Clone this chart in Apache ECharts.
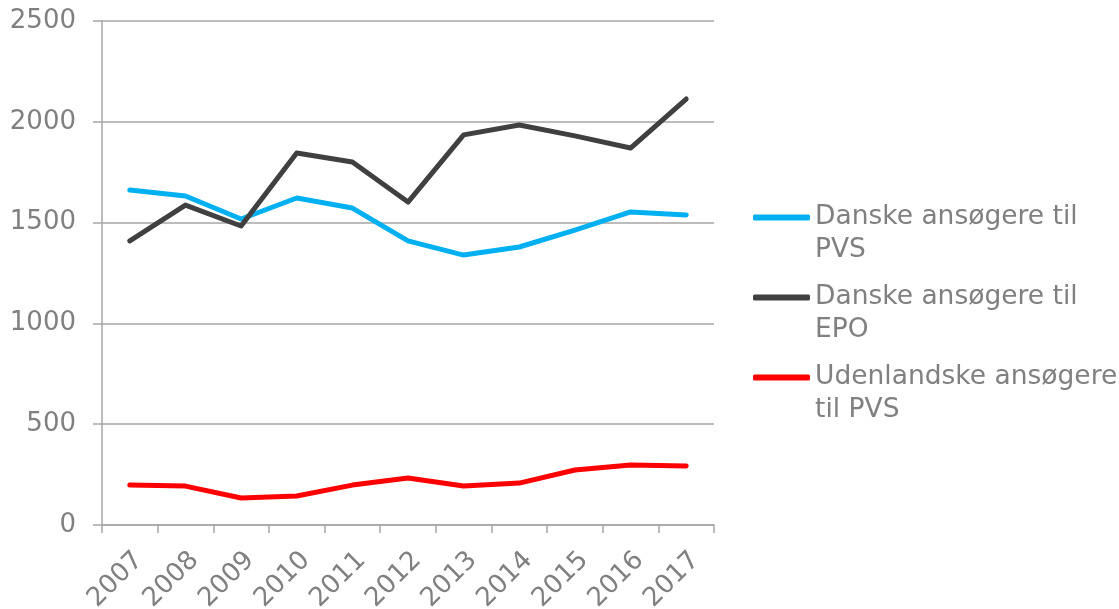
<!DOCTYPE html>
<html>
<head>
<meta charset="utf-8">
<script src="https://cdn.jsdelivr.net/npm/echarts@6/dist/echarts.min.js"></script>
<style>
  html, body { margin: 0; padding: 0; background: #fff; }
  #chart { width: 1119px; height: 609px; }
</style>
</head>
<body>
<div id="chart"></div>
<script>
// år
const years = ['2007', '2008', '2009', '2010', '2011', '2012', '2013', '2014', '2015', '2016', '2017']
// Danske ansøgere til PVS
const dkPvs = [1662, 1632, 1518, 1622, 1572, 1409, 1339, 1379, 1463, 1553, 1538]
// Danske ansøgere til EPO
const dkEpo = [1409, 1587, 1483, 1845, 1801, 1602, 1935, 1984, 1930, 1870, 2113]
// Udenlandske ansøgere til PVS
const foreignPvs = [198, 193, 134, 144, 198, 233, 193, 208, 273, 298, 293]

const seriesNames = ['Danske ansøgere til PVS', 'Danske ansøgere til EPO', 'Udenlandske ansøgere til PVS']
// tom første linje -> ikonet står ud for første tekstlinje
const legendLabels = {
  'Danske ansøgere til PVS': ' \nDanske ansøgere til\nPVS',
  'Danske ansøgere til EPO': ' \nDanske ansøgere til\nEPO',
  'Udenlandske ansøgere til PVS': ' \nUdenlandske ansøgere\ntil PVS'
}

const grey = '#808080'
const gridGrey = '#a6a6a6'
const font = 'DejaVu Sans, Verdana, sans-serif'

const chart = echarts.init(document.getElementById('chart'))

function lineSeries(name, data, color) {
  return {
    name: name,
    type: 'line',
    data: data,
    symbol: 'none',
    lineStyle: { width: 5, color: color, cap: 'round', join: 'round' },
    itemStyle: { color: color },
    animation: false
  }
}

chart.setOption({
  backgroundColor: '#fff',
  grid: {
    left: 102,
    right: 405,
    top: 21,
    bottom: 84,
    outerBoundsMode: 'none'
  },
  legend: {
    orient: 'vertical',
    left: 753,
    top: 168,
    padding: 0,
    icon: 'roundRect',
    itemWidth: 57,
    itemHeight: 6,
    itemGap: -19,
    textGap: 3,
    data: seriesNames,
    formatter: (name) => legendLabels[name],
    textStyle: {
      color: grey,
      fontFamily: font,
      fontSize: 26.5,
      lineHeight: 33
    }
  },
  xAxis: {
    type: 'category',
    data: years,
    boundaryGap: true,
    axisLine: { lineStyle: { color: gridGrey, width: 1.5 } },
    axisTick: { show: true, length: 8, lineStyle: { color: gridGrey, width: 1.5 } },
    axisLabel: {
      rotate: 45,
      interval: 0,
      margin: 22,
      align: 'right',
      verticalAlign: 'top',
      color: grey,
      fontFamily: font,
      fontSize: 26
    },
    splitLine: { show: false }
  },
  yAxis: {
    type: 'value',
    min: 0,
    max: 2500,
    interval: 500,
    axisLine: { show: true, lineStyle: { color: gridGrey, width: 1.5 } },
    axisTick: { show: true, length: 9, lineStyle: { color: gridGrey, width: 1.5 } },
    axisLabel: {
      margin: 26,
      color: grey,
      fontFamily: font,
      fontSize: 26,
      formatter: (v) => String(v)
    },
    splitLine: { lineStyle: { color: gridGrey, width: 1.5 } }
  },
  series: [
    lineSeries(seriesNames[0], dkPvs, '#00b0f0'),
    lineSeries(seriesNames[1], dkEpo, '#404040'),
    lineSeries(seriesNames[2], foreignPvs, '#ff0000')
  ]
})
</script>
</body>
</html>
